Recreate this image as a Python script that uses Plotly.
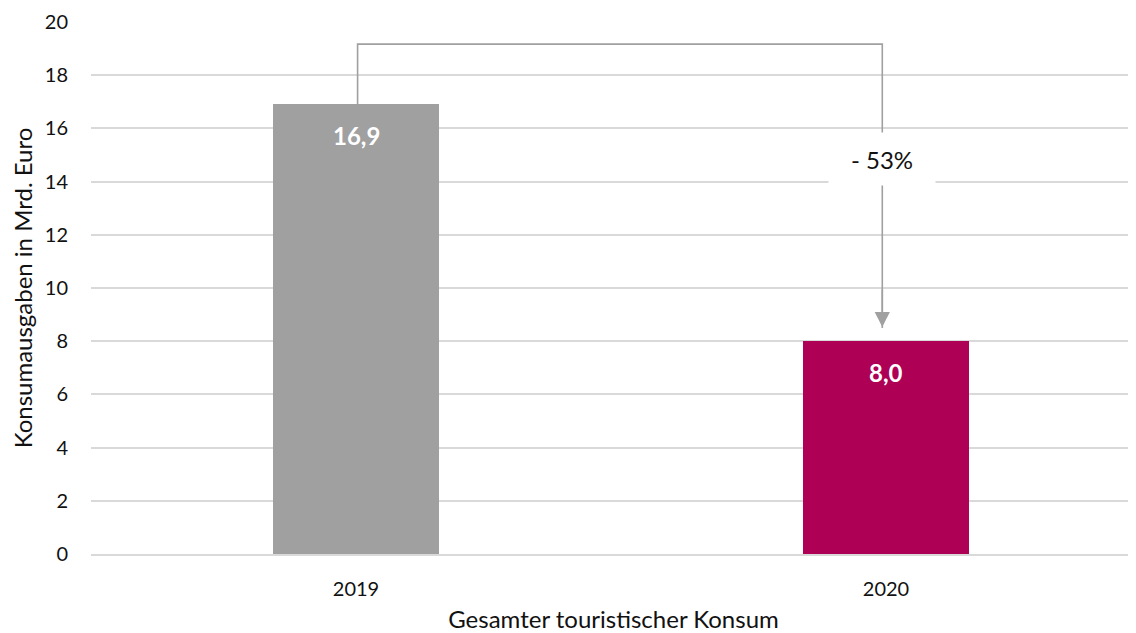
import plotly.graph_objects as go

categories = ["2019", "2020"]
values = [16.9, 8.0]
value_labels = ["16,9", "8,0"]
bar_colors = ["#A0A0A0", "#AE0054"]
change_label = "- 53%"
y_ticks = [0, 2, 4, 6, 8, 10, 12, 14, 16, 18, 20]

FONT = "Lato, Carlito, 'Open Sans', sans-serif"
GRID = "#D9D9D9"
ARROW = "#A0A0A0"
TXT = "#111111"

fig = go.Figure()
fig.add_trace(go.Bar(
    x=[0, 1], y=values, marker=dict(color=bar_colors, line=dict(width=0)),
    width=0.315, hoverinfo="skip", showlegend=False,
))

# value labels inside bars
for i, (v, t) in enumerate(zip(values, value_labels)):
    fig.add_annotation(x=i, y=v, xref="x", yref="y", text=f"<b>{t}</b>",
                       showarrow=False, yshift=-31,
                       font=dict(family=FONT, size=24, color="white"))

# bracket: up from bar 1, across, down toward bar 2
top = 19.17
xl, xr = 0.003, 0.993
fig.add_shape(type="path", xref="x", yref="y",
              path=f"M {xl},{values[0]} L {xl},{top} L {xr},{top} L {xr},{values[1]+0.5}",
              line=dict(color=ARROW, width=1.6))
# arrow head
fig.add_annotation(x=xr, y=values[1] + 0.53, ax=xr, ay=values[1] + 2.0,
                   xref="x", yref="y", axref="x", ayref="y",
                   showarrow=True, arrowhead=2, arrowsize=1.9, arrowwidth=1.6,
                   arrowcolor=ARROW, text="")
# change label box
fig.add_annotation(x=xr, y=14.85, xref="x", yref="y", text=change_label,
                   showarrow=False, bgcolor="white", width=104, height=50,
                   font=dict(family=FONT, size=24, color=TXT))

fig.update_layout(
    width=1128, height=625,
    margin=dict(l=83, r=0, t=14, b=79),
    paper_bgcolor="white", plot_bgcolor="white",
    font=dict(family=FONT, color=TXT),
    bargap=0,
    xaxis=dict(
        range=[-0.5, 1.4717], tickmode="array", tickvals=[0, 1], ticktext=categories,
        showgrid=False, zeroline=False, showline=True, linecolor=GRID, linewidth=1.5,
        ticks="outside", ticklen=16, tickcolor="rgba(0,0,0,0)", automargin=False,
        tickfont=dict(family=FONT, size=20, color=TXT),
        title=dict(text="Gesamter touristischer Konsum", standoff=22,
                   font=dict(family=FONT, size=24, color=TXT)),
    ),
    yaxis=dict(
        range=[0, 20], tickvals=y_ticks, showgrid=True, gridcolor=GRID, gridwidth=1.5,
        zeroline=False, ticks="outside", ticklen=18, tickcolor="rgba(0,0,0,0)",
        automargin=False,
        tickfont=dict(family=FONT, size=20, color=TXT),
        title=dict(text="Konsumausgaben in Mrd. Euro", standoff=5,
                   font=dict(family=FONT, size=24, color=TXT)),
    ),
)

fig.write_html("out.html")
